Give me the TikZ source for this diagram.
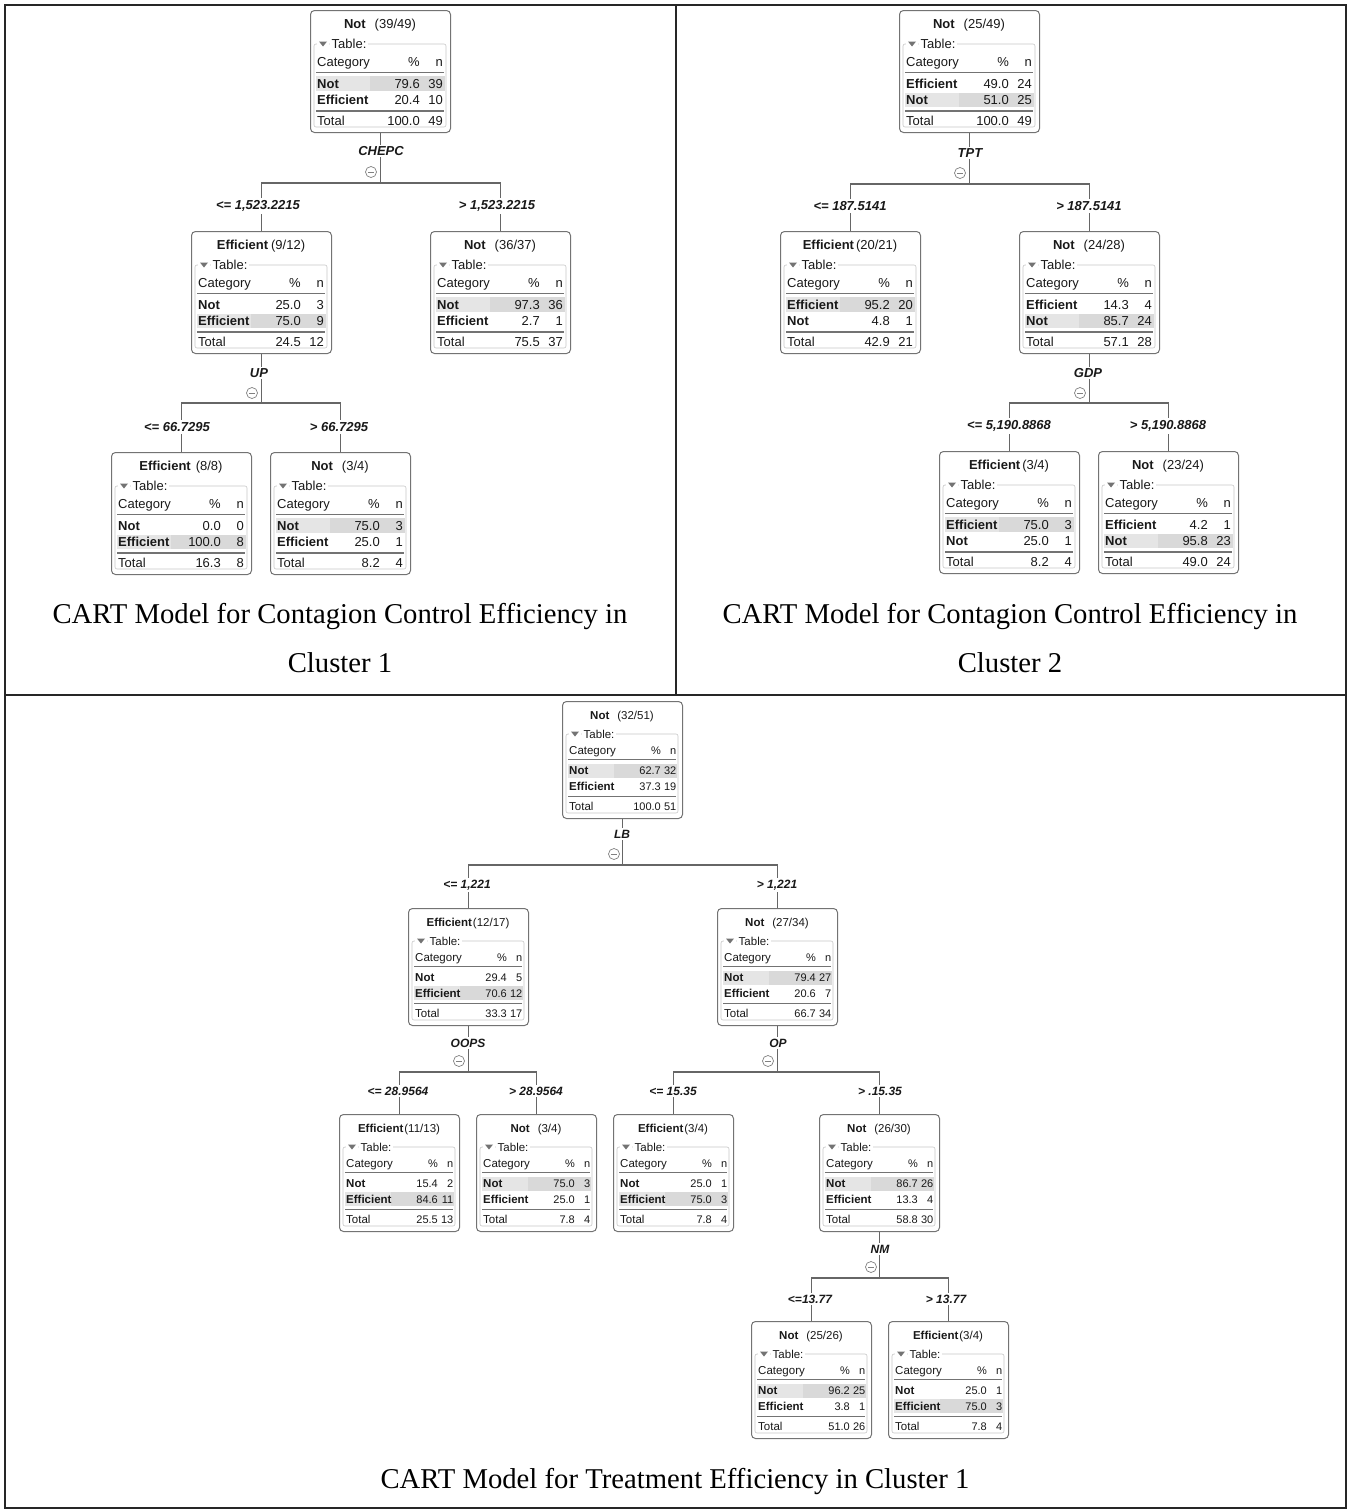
\documentclass[tikz,border=0pt]{standalone}
\usepackage{fontspec}
\setmainfont{Liberation Sans}
\newfontfamily\capfont{Liberation Serif}
\usetikzlibrary{calc}

\def\cnfont{\fontsize{13}{15}\selectfont}
\def\numfont{\fontsize{13}{15}\selectfont}
\def\lblfont{\fontsize{13}{15}\selectfont}

\tikzset{
  cbox/.style={draw=black!55, line width=1pt, rounded corners=4pt, fill=white, inner sep=0pt},
  gbox/.style={draw=black!22, line width=0.6pt, rounded corners=2pt},
  rulel/.style={draw=black!55, line width=1.3pt},
  cell/.style={inner sep=0pt, text=black!90, font=\cnfont},
  numcell/.style={inner sep=0pt, text=black!90, font=\numfont},
  edge/.style={draw=black!60, line width=1.1pt},
  varlbl/.style={fill=white, inner sep=1.5pt, text=black!90, font=\lblfont\bfseries\itshape},
  brlbl/.style={fill=white, inner sep=2pt, text=black!90, font=\lblfont\bfseries\itshape},
  minusc/.style={circle, draw=black!50, fill=white, line width=0.7pt, minimum size=11pt, inner sep=0pt,
    path picture={\draw[black!50, line width=0.8pt] ([xshift=-3.2pt]path picture bounding box.center) -- ([xshift=3.2pt]path picture bounding box.center);}},
  captext/.style={font=\capfont\fontsize{28.7}{32}\selectfont, inner sep=0pt, anchor=base},
  frame/.style={draw=black!85, line width=1.4pt}
}

\newcommand\cnsetTop{\def\cnW{140}\def\cnH{122}\def\oT{14}\def\oTab{34}\def\oHd{52}\def\oLa{62.5}\def\oRa{73.5}\def\oRb{90}\def\oLb{101}\def\oTot{111}\def\cP{30}\def\cN{7}\def\rh{7.3}\def\bo{4.6}%
  \def\cnfont{\fontsize{13}{15}\selectfont}\def\numfont{\fontsize{13}{15}\selectfont}\def\lblfont{\fontsize{13}{15}\selectfont}}
\newcommand\cnsetBot{\def\cnW{120}\def\cnH{117}\def\oT{14}\def\oTab{33}\def\oHd{49}\def\oLa{58.5}\def\oRa{69.5}\def\oRb{85}\def\oLb{95.5}\def\oTot{105}\def\cP{21}\def\cN{5.5}\def\rh{7}\def\bo{4.1}%
  \def\cnfont{\fontsize{11.5}{13}\selectfont}\def\numfont{\fontsize{11}{13}\selectfont}\def\lblfont{\fontsize{12}{14}\selectfont}}

\newcommand\cartnode[9]{%
  \def\cnName{#1}\def\cnX{#2}\def\cnY{#3}\def\cnTitle{#4}\def\cnCount{#5}\def\cnHL{#6}%
  \def\cnRa{#7}\def\cnPa{#8}\def\cnNa{#9}\cartnodeB}
\newcommand\cartnodeB[5]{%
  \begin{scope}[shift={(\cnX,\cnY)}]
    \node[cbox, minimum width=\cnW, minimum height=\cnH, anchor=north west] (\cnName) at (0,0) {};
    \ifnum\cnHL=1 \def\hy{\oRa}\else\def\hy{\oRb}\fi
    \fill[black!10] (5.5,\hy-\rh) rectangle ({0.43*\cnW},\hy+\rh);
    \fill[black!15] ({0.43*\cnW},\hy-\rh) rectangle (\cnW-5.5,\hy+\rh);
    \draw[gbox] (4,\oTab) rectangle (\cnW-4,\cnH-5);
    \fill[white] (7,\oTab-4) rectangle (19,\oTab+4);
    \fill[black!55] (9,\oTab-2.5) -- (17,\oTab-2.5) -- (13,\oTab+2.5) -- cycle;
    \node[cell, anchor=base west, fill=white, inner xsep=1.5pt] (\cnName-tb) at (20,\oTab+\bo) {Table:};
    \node[cell, anchor=base] (\cnName-t) at (\cnW/2,\oT+\bo) {\textbf{\cnTitle}\cnCount};
    \node[cell, anchor=base west] (\cnName-h1) at (7,\oHd+\bo) {Category};
    \node[numcell, anchor=base east] (\cnName-h2) at (\cnW-\cP,\oHd+\bo) {\%};
    \node[numcell, anchor=base east] (\cnName-h3) at (\cnW-\cN,\oHd+\bo) {n};
    \draw[rulel] (6,\oLa) -- (\cnW-6,\oLa);
    \node[cell, anchor=base west] (\cnName-a1) at (7,\oRa+\bo) {\textbf{\cnRa}};
    \node[numcell, anchor=base east] (\cnName-a2) at (\cnW-\cP,\oRa+\bo) {\cnPa};
    \node[numcell, anchor=base east] (\cnName-a3) at (\cnW-\cN,\oRa+\bo) {\cnNa};
    \node[cell, anchor=base west] (\cnName-b1) at (7,\oRb+\bo) {\textbf{#1}};
    \node[numcell, anchor=base east] (\cnName-b2) at (\cnW-\cP,\oRb+\bo) {#2};
    \node[numcell, anchor=base east] (\cnName-b3) at (\cnW-\cN,\oRb+\bo) {#3};
    \draw[rulel] (6,\oLb) -- (\cnW-6,\oLb);
    \node[cell, anchor=base west] (\cnName-c1) at (7,\oTot+\bo) {Total};
    \node[numcell, anchor=base east] (\cnName-c2) at (\cnW-\cP,\oTot+\bo) {#4};
    \node[numcell, anchor=base east] (\cnName-c3) at (\cnW-\cN,\oTot+\bo) {#5};
  \end{scope}}

\begin{document}
\begin{tikzpicture}[x=1pt, y=-1pt]
\useasboundingbox[fill=white] (0,0) rectangle (1351,1510);
% frame
\draw[frame] (5,5) rectangle (1346,1508);
\draw[frame] (676,5) -- (676,695);
\draw[frame] (5,695) -- (1346,695);

% ================= Cluster 1 =================
\cnsetTop
\cartnode{c1r}{310}{10}{Not}{\hspace{9pt}(39/49)}{1}{Not}{79.6}{39}{Efficient}{20.4}{10}{100.0}{49}
\cartnode{c1a}{191}{231}{Efficient}{\hspace{3pt}(9/12)}{2}{Not}{25.0}{3}{Efficient}{75.0}{9}{24.5}{12}
\cartnode{c1b}{430}{231}{Not}{\hspace{9pt}(36/37)}{1}{Not}{97.3}{36}{Efficient}{2.7}{1}{75.5}{37}
\cartnode{c1c}{111}{452}{Efficient}{\hspace{5pt}(8/8)}{2}{Not}{0.0}{0}{Efficient}{100.0}{8}{16.3}{8}
\cartnode{c1d}{270}{452}{Not}{\hspace{9pt}(3/4)}{1}{Not}{75.0}{3}{Efficient}{25.0}{1}{8.2}{4}
\draw[edge] (c1r.south) -- ++(0,50) -| (c1a.north);
\draw[edge] (c1r.south) -- ++(0,50) -| (c1b.north);
\draw[edge] (c1a.south) -- ++(0,49) -| (c1c.north);
\draw[edge] (c1a.south) -- ++(0,49) -| (c1d.north);
\node[varlbl] (c1v1) at (381,151) {CHEPC};
\node[minusc] (c1m1) at (371,172) {};
\node[brlbl] (c1l1) at (258,206) {<= 1,523.2215};
\node[brlbl] (c1l2) at (497,206) {> 1,523.2215};
\node[varlbl] (c1v2) at (259,373) {UP};
\node[minusc] (c1m2) at (252,393) {};
\node[brlbl] (c1l3) at (177,427) {<= 66.7295};
\node[brlbl] (c1l4) at (339,427) {> 66.7295};
\node[captext] (cap1a) at (340,623) {CART Model for Contagion Control Efficiency in};
\node[captext] (cap1b) at (340,672) {Cluster 1};

% ================= Cluster 2 =================
\cartnode{c2r}{899}{10}{Not}{\hspace{9pt}(25/49)}{2}{Efficient}{49.0}{24}{Not}{51.0}{25}{100.0}{49}
\cartnode{c2a}{780}{231}{Efficient}{\hspace{2pt}(20/21)}{1}{Efficient}{95.2}{20}{Not}{4.8}{1}{42.9}{21}
\cartnode{c2b}{1019}{231}{Not}{\hspace{9pt}(24/28)}{2}{Efficient}{14.3}{4}{Not}{85.7}{24}{57.1}{28}
\cartnode{c2c}{939}{451}{Efficient}{\hspace{2pt}(3/4)}{1}{Efficient}{75.0}{3}{Not}{25.0}{1}{8.2}{4}
\cartnode{c2d}{1098}{451}{Not}{\hspace{9pt}(23/24)}{2}{Efficient}{4.2}{1}{Not}{95.8}{23}{49.0}{24}
\draw[edge] (c2r.south) -- ++(0,51) -| (c2a.north);
\draw[edge] (c2r.south) -- ++(0,51) -| (c2b.north);
\draw[edge] (c2b.south) -- ++(0,49) -| (c2c.north);
\draw[edge] (c2b.south) -- ++(0,49) -| (c2d.north);
\node[varlbl] (c2v1) at (970,153) {TPT};
\node[minusc] (c2m1) at (960,173) {};
\node[brlbl] (c2l1) at (850,206) {<= 187.5141};
\node[brlbl] (c2l2) at (1089,206) {> 187.5141};
\node[varlbl] (c2v2) at (1088,373) {GDP};
\node[minusc] (c2m2) at (1080,393) {};
\node[brlbl] (c2l3) at (1009,426) {<= 5,190.8868};
\node[brlbl] (c2l4) at (1168,426) {> 5,190.8868};
\node[captext] (cap2a) at (1010,623) {CART Model for Contagion Control Efficiency in};
\node[captext] (cap2b) at (1010,672) {Cluster 2};

% ================= Treatment =================
\cnsetBot
\cartnode{tr}{562}{701}{Not}{\hspace{8pt}(32/51)}{1}{Not}{62.7}{32}{Efficient}{37.3}{19}{100.0}{51}
\cartnode{ta}{408}{908}{Efficient}{\hspace{1pt}(12/17)}{2}{Not}{29.4}{5}{Efficient}{70.6}{12}{33.3}{17}
\cartnode{tb}{717}{908}{Not}{\hspace{8pt}(27/34)}{1}{Not}{79.4}{27}{Efficient}{20.6}{7}{66.7}{34}
\cartnode{tc}{339}{1114}{Efficient}{\hspace{1pt}(11/13)}{2}{Not}{15.4}{2}{Efficient}{84.6}{11}{25.5}{13}
\cartnode{td}{476}{1114}{Not}{\hspace{8pt}(3/4)}{1}{Not}{75.0}{3}{Efficient}{25.0}{1}{7.8}{4}
\cartnode{te}{613}{1114}{Efficient}{\hspace{1pt}(3/4)}{2}{Not}{25.0}{1}{Efficient}{75.0}{3}{7.8}{4}
\cartnode{tf}{819}{1114}{Not}{\hspace{8pt}(26/30)}{1}{Not}{86.7}{26}{Efficient}{13.3}{4}{58.8}{30}
\cartnode{tg}{751}{1321}{Not}{\hspace{8pt}(25/26)}{1}{Not}{96.2}{25}{Efficient}{3.8}{1}{51.0}{26}
\cartnode{th}{888}{1321}{Efficient}{\hspace{1pt}(3/4)}{2}{Not}{25.0}{1}{Efficient}{75.0}{3}{7.8}{4}
\draw[edge] (tr.south) -- ++(0,46) -| (ta.north);
\draw[edge] (tr.south) -- ++(0,46) -| (tb.north);
\draw[edge] (ta.south) -- ++(0,46) -| (tc.north);
\draw[edge] (ta.south) -- ++(0,46) -| (td.north);
\draw[edge] (tb.south) -- ++(0,46) -| (te.north);
\draw[edge] (tb.south) -- ++(0,46) -| (tf.north);
\draw[edge] (tf.south) -- ++(0,46) -| (tg.north);
\draw[edge] (tf.south) -- ++(0,46) -| (th.north);
\node[varlbl] (tv1) at (622,834) {LB};
\node[minusc] (tm1) at (614,854) {};
\node[brlbl] (tl1) at (467,885) {<= 1,221};
\node[brlbl] (tl2) at (777,885) {> 1,221};
\node[varlbl] (tv2) at (468,1043) {OOPS};
\node[minusc] (tm2) at (459,1061) {};
\node[brlbl] (tl3) at (398,1091) {<= 28.9564};
\node[brlbl] (tl4) at (536,1091) {> 28.9564};
\node[varlbl] (tv3) at (778,1043) {OP};
\node[minusc] (tm3) at (768,1061) {};
\node[brlbl] (tl5) at (673,1091) {<= 15.35};
\node[brlbl] (tl6) at (880,1091) {> .15.35};
\node[varlbl] (tv4) at (880,1249) {NM};
\node[minusc] (tm4) at (871,1267) {};
\node[brlbl] (tl7) at (810,1299) {<=13.77};
\node[brlbl] (tl8) at (946,1299) {> 13.77};
\node[captext] (cap3) at (675,1488) {CART Model for Treatment Efficiency in Cluster 1};
\end{tikzpicture}
\end{document}
